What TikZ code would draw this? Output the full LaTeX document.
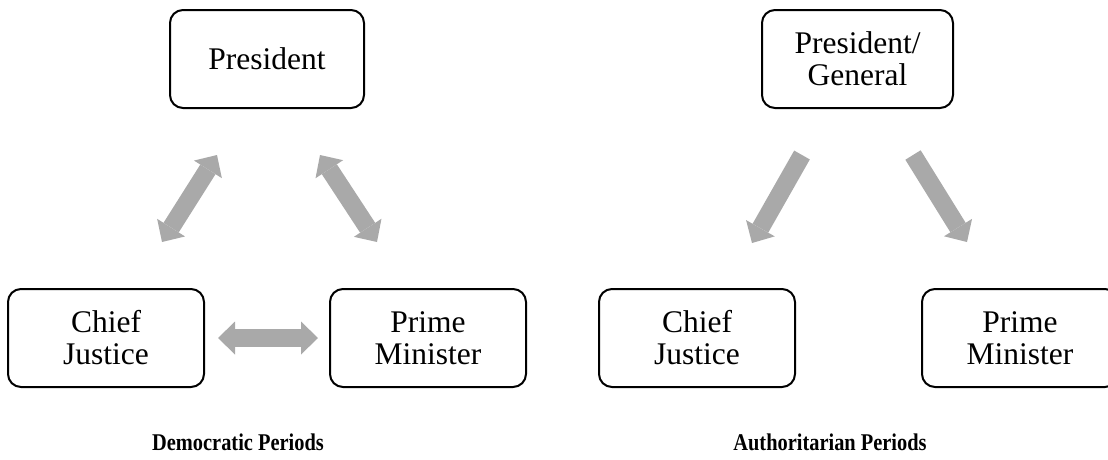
\documentclass[tikz,border=0pt]{standalone}
\usepackage{fontspec}
\setmainfont{Liberation Serif}
\usetikzlibrary{arrows.meta}
\definecolor{arrowgray}{HTML}{A9A9A9}
\newcommand{\capttext}[1]{\scalebox{0.85}[1]{#1}}
\begin{document}
\begin{tikzpicture}[x=1pt,y=-1pt,
  box/.style={draw=black, line width=2pt, rounded corners=13pt,
    minimum width=194pt, minimum height=98pt, align=center, inner sep=0pt,
    font=\fontsize{31.5}{32}\selectfont},
  tipshape/.tip={Triangle[length=17pt,width=33pt,line width=0pt]},
  dblarrow/.style={draw=arrowgray, fill=arrowgray, line width=18pt, tipshape-tipshape},
  sglarrow/.style={draw=arrowgray, fill=arrowgray, line width=18pt, -tipshape},
  caption/.style={font=\bfseries\fontsize{24}{28}\selectfont, anchor=base}]
\useasboundingbox (0,0) rectangle (1108,459);
\clip (0,0) rectangle (1108,459);

% Democratic periods
\node[box] (presL) at (267,59) {President};
\node[box, minimum width=196pt] (cjL) at (106,338) {Chief\\Justice};
\node[box, minimum width=196pt] (pmL) at (428,338) {Prime\\Minister};

\coordinate (a1) at (162,242);
\coordinate (a2) at (217,155);
\coordinate (b1) at (320,155);
\coordinate (b2) at (377,242);
\coordinate (c1) at (218,338);
\coordinate (c2) at (318,338);
\draw[dblarrow] (a1) -- (a2);
\draw[dblarrow] (b1) -- (b2);
\draw[dblarrow] (c1) -- (c2);

\node[caption] (dem) at (238,450) {\capttext{Democratic Periods}};

% Authoritarian periods
\node[box, minimum width=191pt] (presR) at (857.5,59) {President/\\General};
\node[box, minimum width=196pt] (cjR) at (697,338) {Chief\\Justice};
\node[box, minimum width=196pt] (pmR) at (1020,338) {Prime\\Minister};

\coordinate (d1) at (802,155);
\coordinate (d2) at (752,243);
\coordinate (e1) at (913,155);
\coordinate (e2) at (967,242);
\draw[sglarrow] (d1) -- (d2);
\draw[sglarrow] (e1) -- (e2);

\node[caption] (aut) at (830,450) {\capttext{Authoritarian Periods}};
\end{tikzpicture}
\end{document}
